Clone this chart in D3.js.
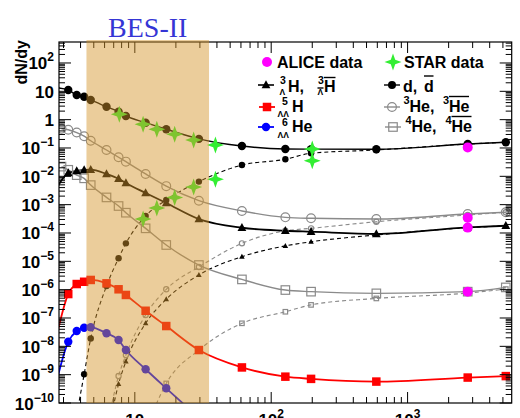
<!DOCTYPE html>
<html><head><meta charset="utf-8">
<script src="https://cdn.jsdelivr.net/npm/d3@7"></script>
<style>body{margin:0;background:#fff}svg{display:block}</style>
</head><body>
<svg id="c" width="520" height="418"></svg>
<script>
// ---- data ----
const energies = [2.6, 2.9, 3.25, 3.75, 4.25, 4.75, 6.2, 7.6, 8.6, 12, 17, 29.5, 61, 127, 196, 590, 2760, 5250];
const dVals      = [13.5, null, 11.1, 7.4, 6.46, 4.94, 2.86, 1.9, 1.35, 0.78, 0.457, 0.21, 0.117, 0.092, 0.091, 0.090, 0.138, 0.159];
const dbarVals   = [null, null, null, 4e-11, 1.03e-9, 1.9e-8, 1.35e-6, 1.28e-5, 4.3e-5, 4e-4, 1.46e-3, 6.5e-3, 0.025, 0.04, 0.065, 0.085, 0.138, 0.159];
const he3Vals    = [null, 0.48, 0.44, 0.35, 0.26, 0.18, 0.085, 0.047, 0.033, 0.0121, 4.5e-3, 1.38e-3, 6.0e-4, 3.57e-4, 3.3e-4, 3.1e-4, 4.7e-4, 5.4e-4];
const he3barVals = [null, null, null, null, null, null, 1.1e-11, 8.95e-10, 4.9e-9, 1.27e-7, 1.03e-6, 6.3e-6, 4.3e-5, 1.2e-4, 1.46e-4, 2.5e-4, 4.3e-4, 5.4e-4];
const h3lVals    = [3e-3, null, 0.0131, 0.0154, 0.0167, 0.0171, 0.0121, 8.2e-3, 5.8e-3, 2.58e-3, 1.14e-3, 3.1e-4, 1.53e-4, 1.2e-4, 1.11e-4, 9.2e-5, 1.58e-4, 1.8e-4];
const h3lbarVals = [null, null, null, null, null, null, 4e-12, 4.7e-10, 2.9e-9, 6.5e-8, 4.6e-7, 3.3e-6, 1.46e-5, 3.5e-5, 4.9e-5, 8.5e-5, 1.53e-4, 1.8e-4];
const he4Vals    = [null, 0.022, 0.017, 0.011, 8.5e-3, 4.9e-3, 1.8e-3, 8.95e-4, 5.2e-4, 1.46e-4, 3.77e-5, 7.4e-6, 2.3e-6, 9.7e-7, 8.5e-7, 7.4e-7, 8.5e-7, 1.2e-6];
const he4barVals = [null, null, null, null, null, null, null, null, null, 1.1e-11, 4.9e-10, 7.4e-9, 6.5e-8, 1.66e-7, 2.9e-7, 4.9e-7, 7.6e-7, 1.05e-6];
const h5llVals   = [1.3e-8, null, 7e-7, 1.58e-6, 1.9e-6, 2.2e-6, 1.67e-6, 1.03e-6, 6.5e-7, 1.8e-7, 5.2e-8, 7.4e-9, 1.8e-9, 8.5e-10, 7.1e-10, 5.7e-10, 7.9e-10, 8.9e-10];
const he6llVals  = [3.4e-10, null, 1.45e-8, 3.47e-8, 4.5e-8, 4.7e-8, 2.9e-8, 1.67e-8, 7.4e-9, 1.55e-9, 3.3e-10, 3e-11, null, null, null, null, null, null];

const starEnergies = [7.7, 11.5, 14.5, 19.6, 27, 39, 200];
const starD    = [1.55, 0.686, 0.457, 0.304, 0.191, 0.128, 0.092];
const starDbar = [null, 3.1e-4, 7.6e-4, 1.78e-3, 4.2e-3, 7.85e-3, 0.0356];

const aliceEnergies = [2760, 2760, 2760, 2760];
const aliceVals = [0.105, 3.47e-4, 1.55e-4, 8.5e-7];

const besRange = [4.42, 35];
const yTickExps = [2,1,0,-1,-2,-3,-4,-5,-6,-7,-8,-9,-10];
const xTickExps = [1,2,3];

// ---- setup ----
const svg = d3.select('#c');
const L = 59, R = 511.7, T = 42, B = 403;
const x = d3.scaleLog().domain([2.78, 5800]).range([L, R]);
const y = d3.scaleLog().domain([1e-10, 550]).range([B, T]);
const FONT = "'Liberation Sans', Arial, sans-serif";

svg.append('defs').append('clipPath').attr('id','clip')
  .append('rect').attr('x',L).attr('y',T).attr('width',R-L).attr('height',B-T);

const plot = svg.append('g').attr('clip-path','url(#clip)');

const GRAY = '#8a8a8a';
const series = [
  {v: he4barVals, color: GRAY, dash: '4,3', w: 1.1, m: 'sq', size: 4.5, fill: 'none'},
  {v: he3barVals, color: GRAY, dash: '4,3', w: 1.1, m: 'circ', size: 2.6, fill: 'none'},
  {v: h3lbarVals, color: '#000', dash: '4,3', w: 1.1, m: 'tri', size: 5, fill: '#000'},
  {v: dbarVals, color: '#000', dash: '4,3', w: 1.1, m: 'circ', size: 3.2, fill: '#000'},
  {v: he4Vals, color: GRAY, dash: null, w: 1.4, m: 'sq', size: 8.5, fill: 'none'},
  {v: he3Vals, color: GRAY, dash: null, w: 1.4, m: 'circ', size: 4.4, fill: 'none'},
  {v: h3lVals, color: '#000', dash: null, w: 1.8, m: 'tri', size: 8, fill: '#000'},
  {v: dVals, color: '#000', dash: null, w: 1.4, m: 'circ', size: 4.2, fill: '#000'},
  {v: h5llVals, color: '#ff0000', dash: null, w: 1.8, m: 'sq', size: 8.5, fill: '#ff0000'},
  {v: he6llVals, color: '#0000ff', dash: null, w: 1.8, m: 'circ', size: 4.2, fill: '#0000ff'},
];

function marker(g, type, cx, cy, size, color, fill, sw) {
  if (type === 'circ') {
    g.append('circle').attr('cx',cx).attr('cy',cy).attr('r',size)
      .attr('fill', fill === 'none' ? '#fff' : fill).attr('fill-opacity', fill==='none'?0:1)
      .attr('stroke', fill === 'none' ? color : 'none').attr('stroke-width', sw||1.2);
  } else if (type === 'sq') {
    g.append('rect').attr('x',cx-size/2).attr('y',cy-size/2).attr('width',size).attr('height',size)
      .attr('fill', fill === 'none' ? '#fff' : fill).attr('fill-opacity', fill==='none'?0:1)
      .attr('stroke', fill === 'none' ? color : 'none').attr('stroke-width', sw||1.2);
  } else if (type === 'tri') {
    const h = size;
    g.append('path').attr('d', `M${cx},${cy-h*0.6}L${cx+h*0.55},${cy+h*0.4}L${cx-h*0.55},${cy+h*0.4}Z`)
      .attr('fill', fill);
  } else if (type === 'star') {
    const a = size, b = size*0.26;
    g.append('path').attr('d', `M${cx},${cy-a}L${cx+b},${cy-b}L${cx+a},${cy}L${cx+b},${cy+b}L${cx},${cy+a}L${cx-b},${cy+b}L${cx-a},${cy}L${cx-b},${cy-b}Z`)
      .attr('fill', fill);
  }
}

const line = d3.line().x(d => x(d[0])).y(d => y(d[1])).curve(d3.curveMonotoneX);

series.forEach(s => {
  const pts = energies.map((e,i) => [e, s.v[i]]).filter(d => d[1] != null);
  plot.append('path').datum(pts).attr('d', line)
    .attr('fill','none').attr('stroke', s.color).attr('stroke-width', s.w)
    .attr('stroke-dasharray', s.dash);
});
series.forEach(s => {
  const g = plot.append('g');
  energies.forEach((e,i) => {
    if (s.v[i] == null) return;
    marker(g, s.m, x(e), y(s.v[i]), s.size, s.color, s.fill);
  });
});

const STAR_GREEN = '#33ee33';
const gd = plot.append('g');
starEnergies.forEach((e,i) => {
  marker(gd, 'star', x(e), y(starD[i]), 8.5, null, STAR_GREEN);
  if (starDbar[i] != null) marker(gd, 'star', x(e), y(starDbar[i]), 8.5, null, STAR_GREEN);
});
aliceEnergies.forEach((e,i) => {
  gd.append('circle').attr('cx', x(e)).attr('cy', y(aliceVals[i])).attr('r', 5).attr('fill', '#ff00ff');
});

// ---- axes frame & ticks ----
const ax = svg.append('g').attr('stroke','#000').attr('fill','none');
ax.append('rect').attr('x',L).attr('y',T).attr('width',R-L).attr('height',B-T).attr('stroke-width',1.2);

const xDom = x.domain();
for (let dec = 0; dec <= 4; dec++) {
  for (let k = 1; k <= 9; k++) {
    const v = k * Math.pow(10, dec);
    if (v < xDom[0] || v > xDom[1]) continue;
    const px = x(v), len = k === 1 ? 11 : 6;
    ax.append('line').attr('x1',px).attr('x2',px).attr('y1',B).attr('y2',B-len).attr('stroke-width',1);
    ax.append('line').attr('x1',px).attr('x2',px).attr('y1',T).attr('y2',T+len).attr('stroke-width',1);
  }
}
for (let dec = -10; dec <= 2; dec++) {
  for (let k = 1; k <= 9; k++) {
    const v = k * Math.pow(10, dec);
    if (v < y.domain()[0] || v > y.domain()[1]) continue;
    const py = y(v), len = k === 1 ? 12 : 6;
    ax.append('line').attr('y1',py).attr('y2',py).attr('x1',L).attr('x2',L+len).attr('stroke-width',1);
    ax.append('line').attr('y1',py).attr('y2',py).attr('x1',R).attr('x2',R-len).attr('stroke-width',1);
  }
}

const labs = svg.append('g').attr('font-family', FONT).attr('font-weight','bold').attr('fill','#000');
yTickExps.forEach(ex => {
  const py = y(Math.pow(10, ex)) + 6.5;
  const t = labs.append('text').attr('x', 54).attr('y', py).attr('text-anchor','end').attr('font-size', 17);
  if (ex === 0) t.text('1');
  else if (ex === 1) t.text('10');
  else {
    t.append('tspan').text('10');
    t.append('tspan').attr('dy', -8).attr('font-size', 12).text(ex < 0 ? '\u2212' + (-ex) : ex);
  }
});
xTickExps.forEach(ex => {
  const px = x(Math.pow(10, ex));
  const t = labs.append('text').attr('x', px).attr('y', 426).attr('text-anchor','middle').attr('font-size', 17);
  t.append('tspan').text('10');
  if (ex > 1) t.append('tspan').attr('dy', -8).attr('font-size', 12).text(ex);
});

svg.append('text').attr('transform','translate(27,40) rotate(-90)').attr('text-anchor','end')
  .attr('font-family', FONT).attr('font-weight','bold').attr('font-size',16).text('dN/dy');

// ---- BES-II band (on top) ----
svg.append('rect').attr('x', x(besRange[0])).attr('y', 40).attr('width', x(besRange[1]) - x(besRange[0]))
  .attr('height', B - 40).attr('fill', 'rgb(213,149,43)').attr('fill-opacity', 0.47);
svg.append('text').attr('x', (x(besRange[0]) + x(besRange[1]))/2).attr('y', 37).attr('text-anchor','middle')
  .attr('font-family', "'Liberation Serif', 'Times New Roman', serif").attr('font-size', 28)
  .attr('fill', '#3535d5').text('BES-II');

// ---- legend ----
const lg = svg.append('g').attr('font-family', FONT).attr('font-weight','bold').attr('fill','#000');
function txt(xx, yy, s, fs) { return lg.append('text').attr('x',xx).attr('y',yy).attr('font-size',fs||16).text(s); }
function oline(x1, x2, yy) { lg.append('line').attr('x1',x1).attr('x2',x2).attr('y1',yy).attr('y2',yy).attr('stroke','#000').attr('stroke-width',1.4); }
function lline(cx, cy, color, w) { lg.append('line').attr('x1',cx-8).attr('x2',cx+8).attr('y1',cy).attr('y2',cy).attr('stroke',color).attr('stroke-width',w||1.4); }

lg.append('circle').attr('cx',267).attr('cy',62).attr('r',5).attr('fill','#ff00ff');
txt(277, 68, 'ALICE data');
marker(lg, 'star', 393, 62, 8.5, null, STAR_GREEN);
txt(404, 68, 'STAR data');

lline(266, 85, '#000', 1.6); marker(lg, 'tri', 266, 85, 8, '#000', '#000');
txt(280, 83.5, '3', 10.5); txt(279.5, 95, '\u039b', 8.5); txt(288, 91.5, 'H,');
txt(318, 83.5, '3', 10.5); txt(317.5, 95, '\u039b', 8.5); oline(317.5, 323.5, 88); txt(324, 91.5, 'H'); oline(324, 335.5, 77.5);
lline(392, 85, '#000', 1.4); marker(lg, 'circ', 392, 85, 4, '#000', '#000');
txt(403, 91.5, 'd,'); txt(424, 91.5, 'd'); oline(424, 433.5, 76);

lline(267, 107, '#ff0000', 1.8); marker(lg, 'sq', 267, 107, 8.5, '#ff0000', '#ff0000');
txt(282, 105, '5', 10.5); txt(277.5, 117, '\u039b\u039b', 8.5); txt(292, 111.5, 'H');
lline(392, 107, GRAY, 1.4); marker(lg, 'circ', 392, 107, 4.4, GRAY, 'none');
txt(403.5, 104, '3', 11); txt(409.5, 111.5, 'He,');
txt(443, 104, '3', 11); txt(449, 111.5, 'He'); oline(449, 469, 96.5);

lline(266, 127, '#0000ff', 1.8); marker(lg, 'circ', 266, 127, 4.2, '#0000ff', '#0000ff');
txt(282, 126, '6', 10.5); txt(277.5, 138, '\u039b\u039b', 8.5); txt(292, 132, 'He');
lline(393, 127, GRAY, 1.4); marker(lg, 'sq', 393, 127, 8.5, GRAY, 'none');
txt(405.5, 124, '4', 11); txt(411.5, 132, 'He,');
txt(445.5, 124, '4', 11); txt(451.5, 132, 'He'); oline(451.5, 471.5, 116.5);
</script>
</body></html>
